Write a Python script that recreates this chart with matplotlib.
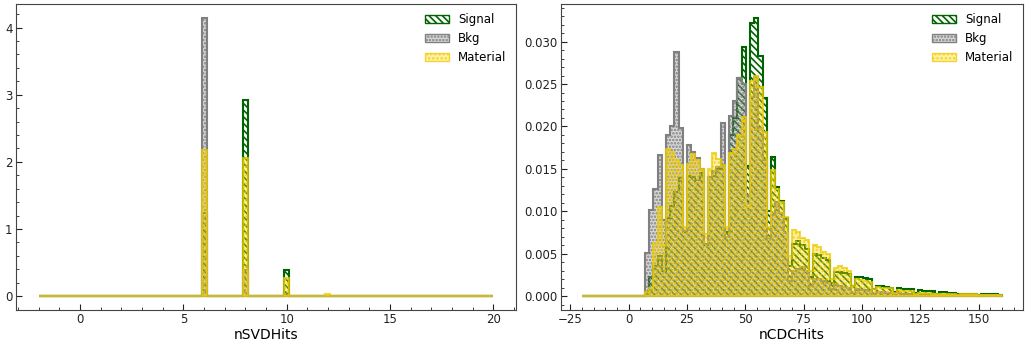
import numpy as np
import matplotlib
matplotlib.use("agg")
import matplotlib.pyplot as plt
from matplotlib.patches import Patch
from matplotlib.ticker import MultipleLocator, FormatStrFormatter

# nSVDHits: fraction of events (%) at each hit count
svd_hits = [6, 8, 10, 12]
svd_signal = [27.2, 64.4, 8.4, 0.0]
svd_bkg = [91.2, 8.6, 0.2, 0.0]
svd_material = [47.9, 45.4, 6.0, 0.7]
svd_range = (-2, 20)

# nCDCHits: density per bin (100 bins over the range), starting at the first filled bin
cdc_range = (-20, 160)
cdc_nbins = 100
cdc_first_bin = 15
cdc_signal = [
    .0005, .0022, .0035, .0047, .0030, .0092, .0106, .0123, .0139, .0075,
    .0141, .0140, .0137, .0145, .0060, .0140, .0142, .0150, .0155, .0075,
    .0190, .0210, .0257, .0294, .0153, .0322, .0328, .0283, .0234, .0100,
    .0164, .0129, .0112, .0092, .0035, .0062, .0065, .0060, .0055, .0022,
    .0050, .0049, .0045, .0042, .0015, .0028, .0028, .0027, .0026, .0012,
    .0022, .0022, .0021, .0020, .0008, .0012, .0012, .0011, .0010, .0005,
    .0009, .0008, .0008, .0008, .0004, .0007, .0006, .0006, .0006, .0003,
    .0005, .0005, .0004, .0004, .0002, .0003, .0003, .0003, .0003, .0001,
    .0002, .0002, .0002, .0002, .0001,
]
cdc_bkg = [
    .0051, .0102, .0126, .0166, .0090, .0190, .0200, .0288, .0198, .0077,
    .0178, .0170, .0163, .0150, .0062, .0140, .0148, .0152, .0204, .0070,
    .0212, .0230, .0257, .0250, .0119, .0235, .0258, .0198, .0160, .0069,
    .0096, .0111, .0098, .0074, .0018, .0030, .0032, .0034, .0030, .0012,
    .0020, .0020, .0018, .0016, .0008, .0013, .0012, .0011, .0010, .0004,
    .0008, .0007, .0007, .0006, .0003, .0005, .0005, .0004, .0004, .0002,
    .0004, .0003, .0003, .0003, .0001, .0002, .0002, .0002, .0002, .0001,
    .0001, .0001, .0001, .0001, .0001, .0001, .0001, .0001, .0001, .0000,
    .0001, .0001, .0001, .0001, .0000,
]
cdc_material = [
    .0005, .0010, .0063, .0105, .0060, .0174, .0170, .0160, .0155, .0082,
    .0156, .0167, .0161, .0150, .0073, .0150, .0169, .0162, .0155, .0081,
    .0169, .0173, .0190, .0211, .0105, .0253, .0259, .0247, .0193, .0082,
    .0149, .0126, .0111, .0093, .0047, .0078, .0075, .0068, .0066, .0030,
    .0060, .0058, .0052, .0050, .0020, .0033, .0035, .0033, .0030, .0012,
    .0020, .0019, .0018, .0017, .0008, .0011, .0010, .0009, .0009, .0004,
    .0007, .0006, .0006, .0006, .0003, .0004, .0004, .0004, .0003, .0002,
    .0003, .0003, .0002, .0002, .0001, .0002, .0002, .0002, .0002, .0001,
    .0001, .0001, .0001, .0001, .0001,
]

styles = {
    "Signal": dict(facecolor="none", edgecolor="darkgreen", hatch="\\\\\\\\\\"),
    "Bkg": dict(facecolor=(0.5, 0.5, 0.5, 0.3), edgecolor="gray", hatch="....."),
    "Material": dict(facecolor=(1.0, 0.84, 0.0, 0.35), edgecolor=(0.93, 0.8, 0.0, 0.75), hatch="...."),
}

plt.rcParams["hatch.linewidth"] = 1.2
plt.rcParams["font.size"] = 8.5

fig = plt.figure(figsize=(10.31, 3.47), dpi=100)
ax1 = fig.add_axes([0.0155, 0.1066, 0.485, 0.882])
ax2 = fig.add_axes([0.5441, 0.1066, 0.4481, 0.882])

for name, frac in zip(["Signal", "Bkg", "Material"], [svd_signal, svd_bkg, svd_material]):
    ax1.hist(svd_hits, bins=100, range=svd_range, weights=frac, density=True,
             histtype="stepfilled", linewidth=1.5, **styles[name])

edges = np.linspace(cdc_range[0], cdc_range[1], cdc_nbins + 1)
centers = 0.5 * (edges[:-1] + edges[1:])
for name, vals in zip(["Signal", "Bkg", "Material"], [cdc_signal, cdc_bkg, cdc_material]):
    heights = np.zeros(cdc_nbins)
    heights[cdc_first_bin:cdc_first_bin + len(vals)] = vals
    ax2.hist(centers, bins=edges, weights=heights,
             histtype="stepfilled", linewidth=1.5, **styles[name])

handles = [Patch(label=n, linewidth=1.0, **styles[n]) for n in styles]

for ax, label in [(ax1, "nSVDHits"), (ax2, "nCDCHits")]:
    ax.use_sticky_edges = False
    ax.autoscale_view()
    ax.set_xlabel(label, fontsize=10, labelpad=1)
    ax.legend(handles=handles, loc="upper right", frameon=False, fontsize=8.5,
              borderaxespad=0.4)
    ax.tick_params(which="both", direction="in", colors="#222222", pad=2.5)
    ax.tick_params(which="major", length=4)
    ax.tick_params(which="minor", length=2)
    for s in ax.spines.values():
        s.set_color("#444444")

ax1.xaxis.set_major_locator(MultipleLocator(5))
ax1.xaxis.set_minor_locator(MultipleLocator(1))
ax1.yaxis.set_major_locator(MultipleLocator(1))
ax1.yaxis.set_minor_locator(MultipleLocator(0.2))
ax2.xaxis.set_major_locator(MultipleLocator(25))
ax2.xaxis.set_minor_locator(MultipleLocator(5))
ax2.yaxis.set_major_locator(MultipleLocator(0.005))
ax2.yaxis.set_minor_locator(MultipleLocator(0.001))
ax2.yaxis.set_major_formatter(FormatStrFormatter("%.3f"))

fig.savefig("out.png", dpi=100)
